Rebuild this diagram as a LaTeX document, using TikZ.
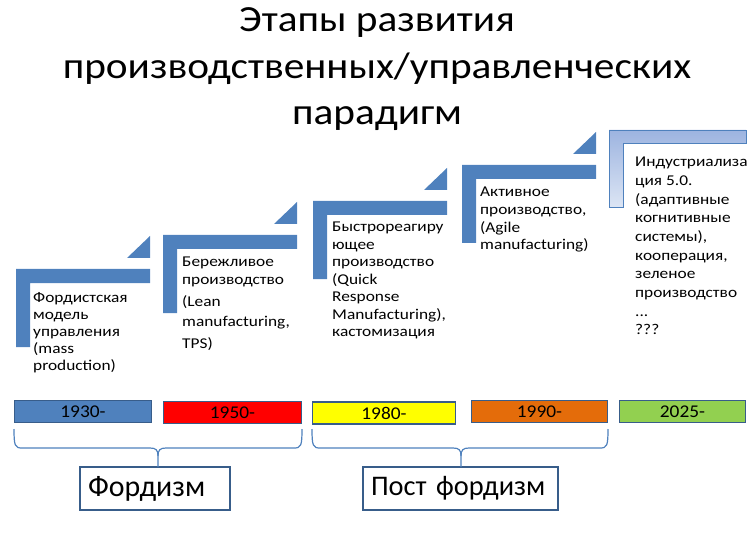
\documentclass[tikz,border=0pt]{standalone}
\usepackage{fontspec}
\setmainfont{Carlito}
\newfontfamily\stepfont[FakeStretch=1.16]{Carlito}
\newfontfamily\titlefont[FakeStretch=1.12]{Carlito}
\newfontfamily\yearfont[FakeStretch=1.08]{Carlito}
\usetikzlibrary{calc}
\definecolor{stepblue}{HTML}{4F81BD}
\definecolor{barline}{HTML}{385D8A}
\definecolor{ltop}{HTML}{9DB4E0}
\definecolor{lbot}{HTML}{DCE5F4}
\definecolor{redbar}{HTML}{FF0000}
\definecolor{yelbar}{HTML}{FFFF00}
\definecolor{orbar}{HTML}{E46C0A}
\definecolor{grbar}{HTML}{92D050}
\begin{document}
\begin{tikzpicture}[x=1bp,y=-1bp,
  yearbar/.style={draw=barline,line width=1.4bp,minimum height=22bp,inner sep=0,font=\yearfont\fontsize{18}{18}\selectfont},
  steptext/.style={anchor=base west,inner sep=0,font=\stepfont\fontsize{15}{#1}\selectfont},
  bracket/.style={draw=stepblue,line width=1.2bp},
  periodbox/.style={draw=barline,line width=1.8bp,minimum height=43bp,inner xsep=8bp,align=left,font=\fontsize{30}{30}\selectfont}
]
\useasboundingbox (0,0) rectangle (755,536);

% title
\node[inner sep=0,anchor=base,font=\titlefont\fontsize{37}{46.75}\selectfont] (title) at (377,31.5)
  {\begin{tabular}[t]{@{}c@{}}Этапы развития\\производственных/управленческих\\парадигм\end{tabular}};

% step shapes
\foreach \L/\T in {16/269,163/235,313/201,462/165}{
  \fill[stepblue] (\L,\T) -- ++(134,0) -- ++(0,14) -- ++(-120,0) -- ++(0,64) -- ++(-14,0) -- cycle;
  \fill[stepblue] (\L+111,\T-11) -- ++(23,0) -- ++(0,-22) -- cycle;
}
\draw[stepblue,line width=0.8bp,top color=ltop,bottom color=lbot]
  (609,130) -- ++(137,0) -- ++(0,13) -- ++(-123,0) -- ++(0,64) -- ++(-14,0) -- cycle;

% step texts
\node[steptext=17.3] (t1) at (33,302)
  {\begin{tabular}[t]{@{}l@{}}Фордистская\\модель\\управления\\(mass\\production)\end{tabular}};
\node[steptext=18] (t2) at (182,267)
  {\begin{tabular}[t]{@{}l@{}}Бережливое\\производство\\[4pt](Lean\\[2pt]manufacturing,\\[4pt]TPS)\end{tabular}};
\node[steptext=17.5] (t3) at (332,232)
  {\begin{tabular}[t]{@{}l@{}}Быстрореагиру\\ющее\\производство\\(Quick\\Response\\Manufacturing),\\кастомизация\end{tabular}};
\node[steptext=17.7] (t4) at (480,197)
  {\begin{tabular}[t]{@{}l@{}}Активное\\производство,\\(Agile\\manufacturing)\end{tabular}};
\node[steptext=18.7] (t5) at (635,167)
  {\begin{tabular}[t]{@{}l@{}}Индустриализа\\ция 5.0.\\(адаптивные\\когнитивные\\системы),\\кооперация,\\зеленое\\производство\\...\\???\end{tabular}};

% year bars
\node[yearbar,fill=stepblue,minimum width=137bp] (y1930) at (83,411.5) {1930-};
\node[yearbar,fill=redbar,minimum width=138bp] (y1950) at (232.5,412.5) {1950-};
\node[yearbar,fill=yelbar,minimum width=143bp] (y1980) at (384,413) {1980-};
\node[yearbar,fill=orbar,minimum width=136bp] (y1990) at (539.5,411.5) {1990-};
\node[yearbar,fill=grbar,minimum width=126bp] (y2025) at (682.5,411.5) {2025-};

% period boxes
\node[periodbox,minimum width=150bp,text width=134bp] (ford) at (155,488.5) {\mbox{Фордизм}};
\node[periodbox,minimum width=195bp,text width=179bp,font=\fontsize{28.5}{28.5}\selectfont] (post) at (460.5,488.5) {\mbox{Пост фордизм}};

% brackets
\coordinate (ftip) at (158,467);
\coordinate (ptip) at (461,467);
\draw[bracket] (14,429) .. controls (14,446) and (15,448) .. (22,448) -- (150,448)
  .. controls (156,448) and (158,450) .. (158,456) -- (ftip);
\draw[bracket] (158,456) .. controls (158,450) and (160,448) .. (166,448) -- (294,448)
  .. controls (301,448) and (302,446) .. (302,429);
\draw[bracket] (312,429) .. controls (312,446) and (313,448) .. (320,448) -- (453,448)
  .. controls (459,448) and (461,450) .. (461,456) -- (ptip);
\draw[bracket] (461,456) .. controls (461,450) and (463,448) .. (469,448) -- (600,448)
  .. controls (607,448) and (608,446) .. (608,429);
\end{tikzpicture}
\end{document}
